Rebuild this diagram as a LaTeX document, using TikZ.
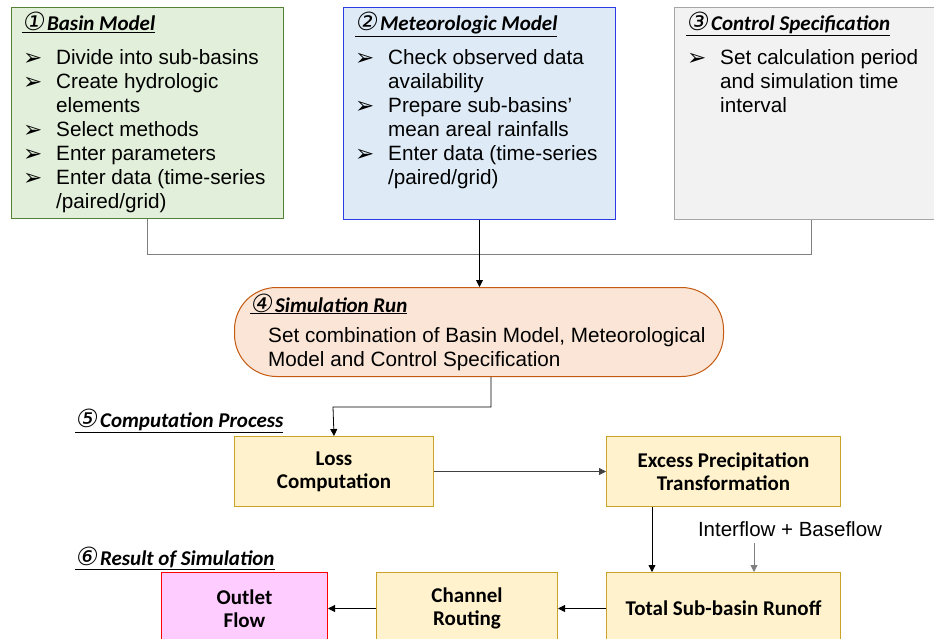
\documentclass[tikz,border=0pt]{standalone}
\usepackage{fontspec}
\setmainfont{Liberation Sans}
\newfontfamily\titlefont{Carlito}
\newfontfamily\circfont[FakeSlant=0.15]{DejaVu Sans}
\newfontfamily\symfont{DejaVu Sans}
\usetikzlibrary{arrows.meta}

\definecolor{greenfill}{HTML}{E2EFDA}
\definecolor{greenline}{HTML}{548235}
\definecolor{bluefill}{HTML}{DEEBF7}
\definecolor{blueline}{HTML}{2B3BE6}
\definecolor{greyfill}{HTML}{F2F2F2}
\definecolor{greyline}{HTML}{A6A6A6}
\definecolor{simfill}{HTML}{FBE5D6}
\definecolor{simline}{HTML}{C55A11}
\definecolor{stepfill}{HTML}{FFF2CC}
\definecolor{stepline}{HTML}{C9A227}
\definecolor{outfill}{HTML}{FFCCFF}
\definecolor{outline}{HTML}{FF0000}
\definecolor{linkgrey}{HTML}{7F7F7F}

% arrowhead bullet, slightly raised to sit on the text's x-height
\newcommand{\bul}{\raisebox{-0.5pt}{\symfont\fontsize{23}{23}\selectfont ➢}}
\newcommand{\headline}[2]{\underline{{\circfont\fontsize{25}{25}\selectfont #1}\kern2.5pt{\titlefont\bfseries\itshape #2}}}
\newcommand{\bodysize}{\fontsize{20.7}{24}\selectfont}

\tikzset{
  panel/.style={draw, line width=1pt, inner sep=0pt, anchor=north west},
  simbox/.style={draw=simline, fill=simfill, line width=1pt, rounded corners=42pt, inner sep=0pt, anchor=north west},
  stepbox/.style={draw=stepline, fill=stepfill, line width=1pt, inner sep=0pt, anchor=north west,
    align=center, font=\titlefont\bfseries\fontsize{21}{23}\selectfont},
  txt/.style={anchor=base west, inner sep=0pt, align=left, font=\bodysize},
  head/.style={anchor=base west, inner sep=0pt, font=\fontsize{21}{22}\selectfont},
  link/.style={draw=linkgrey, line width=0.9pt},
  arrowlink/.style={draw=black, line width=0.8pt, -{Triangle[length=7pt,width=7pt]}},
}

\begin{document}
\begin{tikzpicture}[x=1pt, y=-1pt]
\useasboundingbox (0,0) rectangle (934,639);
\clip (0,0) rectangle (934,639);

% --- input panels ---
\node[panel, draw=greenline, fill=greenfill, minimum width=272pt, minimum height=211pt] (basin) at (11,7) {};
\node[panel, draw=blueline, fill=bluefill, minimum width=272pt, minimum height=212pt] (met) at (343,7) {};
\node[panel, draw=greyline, fill=greyfill, minimum width=274pt, minimum height=212pt] (ctrl) at (674,7) {};

\node[head] (basinT) at (22,31) {\headline{①}{Basin Model}};
\node[txt] (basinL) at (23,65) {\begin{tabular}[t]{@{}l@{}l@{}}
\makebox[33pt][l]{\bul} & Divide into sub-basins\\
\makebox[33pt][l]{\bul} & Create hydrologic\\
 & elements\\
\makebox[33pt][l]{\bul} & Select methods\\
\makebox[33pt][l]{\bul} & Enter parameters\\
\makebox[33pt][l]{\bul} & Enter data (time-series\\
 & /paired/grid)
\end{tabular}};

\node[head] (metT) at (355,31) {\headline{②}{Meteorologic Model}};
\node[txt] (metL) at (355,65) {\begin{tabular}[t]{@{}l@{}l@{}}
\makebox[33pt][l]{\bul} & Check observed data\\
 & availability\\
\makebox[33pt][l]{\bul} & Prepare sub-basins'\\
 & mean areal rainfalls\\
\makebox[33pt][l]{\bul} & Enter data (time-series\\
 & /paired/grid)
\end{tabular}};

\node[head] (ctrlT) at (686,31) {\headline{③}{Control Specification}};
\node[txt] (ctrlL) at (687,65) {\begin{tabular}[t]{@{}l@{}l@{}}
\makebox[33pt][l]{\bul} & Set calculation period\\
 & and simulation time\\
 & interval
\end{tabular}};

% --- simulation run ---
\node[simbox, minimum width=489pt, minimum height=89pt] (sim) at (234,287) {};
\node[head] (simT) at (250,312) {\headline{④}{Simulation Run}};
\node[txt] (simL) at (268,342) {\begin{tabular}[t]{@{}l@{}}
Set combination of Basin Model, Meteorological\\
Model and Control Specification
\end{tabular}};

% --- computation process ---
\node[head] (compT) at (75,427) {\headline{⑤}{Computation Process}};
\node[stepbox, minimum width=199pt, minimum height=70pt] (loss) at (234,436) {Loss\\Computation};
\node[stepbox, minimum width=234pt, minimum height=70pt] (excess) at (606,436) {Excess Precipitation\\Transformation};
\node[stepbox, minimum width=234pt, minimum height=72pt] (total) at (606,572) {Total Sub-basin Runoff};
\node[stepbox, minimum width=181pt, minimum height=72pt] (chan) at (376,572) {Channel\\Routing};

% --- result ---
\node[head] (resT) at (75,565) {\headline{⑥}{Result of Simulation}};
\node[stepbox, draw=outline, fill=outfill, minimum width=166pt, minimum height=72pt] (outlet) at (161,572) {Outlet\\Flow};

\node[inner sep=0pt, font=\fontsize{20.5}{22}\selectfont] (ifl) at (790,529) {Interflow + Baseflow};
\coordinate (iflStart) at (754,543);

% --- connectors ---
\draw[link] (basin.south) -- ++(0,35) -| (ctrl.south);
\draw[arrowlink] (met.south) -- (sim.north -| met.south);
\draw[arrowlink] ([xshift=12pt]sim.south) |- ++(-158,30) -- (loss.north);
\draw[arrowlink, draw=black!75] (loss.east) -- (excess.west);
\draw[arrowlink] ([xshift=46pt]excess.south west) -- ([xshift=46pt]total.north west);
\draw[arrowlink, draw=linkgrey] (iflStart) -- (iflStart |- total.north);
\draw[arrowlink] (total.west) -- (chan.east);
\draw[arrowlink] (chan.west) -- (outlet.east);
\end{tikzpicture}
\end{document}
